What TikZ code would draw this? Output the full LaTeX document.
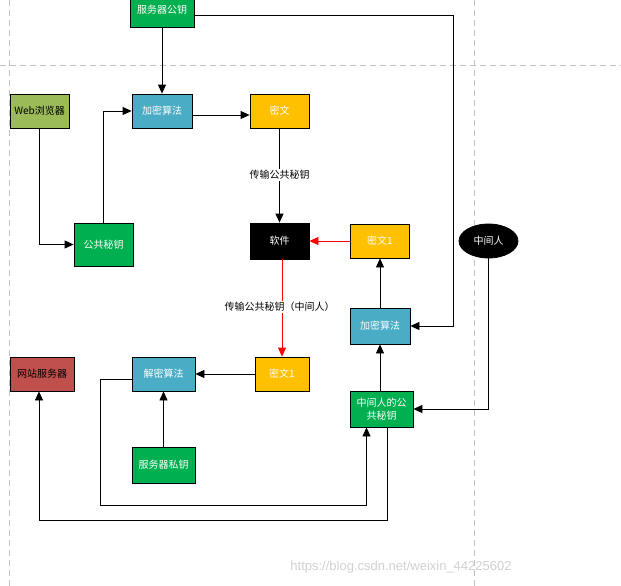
\documentclass[tikz,border=0pt]{standalone}
\usepackage{fontspec}
\setmainfont{Noto Sans CJK SC}
\newfontfamily\wmfont{Liberation Sans}
\usetikzlibrary{arrows.meta,shapes.geometric,calc}
\definecolor{cgreen}{HTML}{00B050}
\definecolor{cblue}{HTML}{4BACC6}
\definecolor{cyellow}{HTML}{FFC000}
\definecolor{colive}{HTML}{9BBB59}
\definecolor{cred}{HTML}{C0504D}
\definecolor{cdash}{HTML}{C0C0C0}
\begin{document}
\begin{tikzpicture}[x=1pt,y=-1pt,
  box/.style={draw=black,line width=0.8pt,rectangle,inner sep=1pt,font=\fontsize{10}{13}\selectfont,text=white,align=center},
  arr/.style={line width=0.8pt,-{Triangle[length=9pt,width=8pt]}},
  redarr/.style={line width=0.8pt,draw=red,-{Triangle[length=9pt,width=8pt]},color=red},
  guide/.style={draw=cdash,line width=0.8pt,dash pattern=on 6pt off 4pt},
  lbl/.style={fill=white,inner sep=1pt,font=\fontsize{10}{12}\selectfont,text=black}]
\useasboundingbox (0,0) rectangle (621,586);
\fill[white] (0,0) rectangle (621,586);
% guide lines
\draw[guide] (9,0) -- (9,586);
\draw[guide] (474,0) -- (474,586);
\draw[guide] (0,65) -- (621,65);
% nodes
\node[box,fill=cgreen,minimum width=64pt,minimum height=34pt] (pk) at (162,10) {服务器公钥};
\node[box,fill=cblue,minimum width=60pt,minimum height=34pt] (enc1) at (162,111) {加密算法};
\node[box,fill=cyellow,minimum width=59pt,minimum height=34pt] (ct) at (279.5,111) {密文};
\node[box,fill=colive,text=black,minimum width=59pt,minimum height=34pt] (web) at (39.5,111) {Web浏览器};
\node[box,fill=cgreen,minimum width=59pt,minimum height=43pt] (pub) at (103.5,244.5) {公共秘钥};
\node[box,fill=black,minimum width=59pt,minimum height=36pt] (sw) at (279.5,241) {软件};
\node[box,fill=cyellow,minimum width=59pt,minimum height=34pt] (cta) at (380,241) {密文1};
\node[box,ellipse,fill=black,minimum width=59pt,minimum height=34pt,inner sep=0pt] (mitm) at (488.5,241) {中间人};
\node[box,fill=cblue,minimum width=60pt,minimum height=36pt] (enc2) at (380,326) {加密算法};
\node[box,fill=cred,text=black,minimum width=64pt,minimum height=34pt] (ws) at (42,374) {网站服务器};
\node[box,fill=cblue,minimum width=63pt,minimum height=34pt] (dec) at (163.5,374) {解密算法};
\node[box,fill=cyellow,minimum width=54pt,minimum height=34pt] (ctb) at (282,374) {密文1};
\node[box,fill=cgreen,minimum width=63pt,minimum height=36pt] (mpk) at (381.5,409) {中间人的公\\共秘钥};
\node[box,fill=cgreen,minimum width=63pt,minimum height=36pt] (sk) at (163.5,465) {服务器私钥};
% connectors
\draw[arr] (pk.south) -- (enc1.north);
\draw[arr] ([yshift=-5pt]pk.east) -| ($(enc2.east)+(43,0)$) -- (enc2.east);
\draw[arr] ([yshift=-4pt]enc1.east) -- ([yshift=-4pt]ct.west);
\draw[arr] (web.south) |- (pub.west);
\draw[arr] (pub.north) |- (enc1.west);
\draw[arr] (ct.south) -- (sw.north);
\node[lbl] (l1) at (279.5,175) {传输公共秘钥};
\draw[redarr] (cta.west) -- (sw.east);
\draw[redarr] (sw.south -| ctb.north) -- (ctb.north);
\node[lbl] (l2) at (279.5,307) {传输公共秘钥（中间人）};
\draw[arr] (enc2.north) -- (cta.south);
\draw[arr] (mpk.north -| enc2.south) -- (enc2.south);
\draw[arr] (mitm.south) |- (mpk.east);
\draw[arr] (ctb.west) -- (dec.east);
\draw[arr] (sk.north) -- (dec.south);
\coordinate (c1) at (100,505.3);
\draw[arr] ([yshift=-5pt]dec.west) -| (c1) -| ([xshift=-15pt]mpk.south);
\coordinate (c2) at (39,520);
\draw[arr] ([xshift=6pt]mpk.south) |- (c2) -- ([xshift=-3pt]ws.south);
% watermark
\node[font=\wmfont\fontsize{13}{15}\selectfont,text=black!18,inner sep=0pt] (wm) at (401,567) {https://blog.csdn.net/weixin\_44225602};
\end{tikzpicture}
\end{document}
